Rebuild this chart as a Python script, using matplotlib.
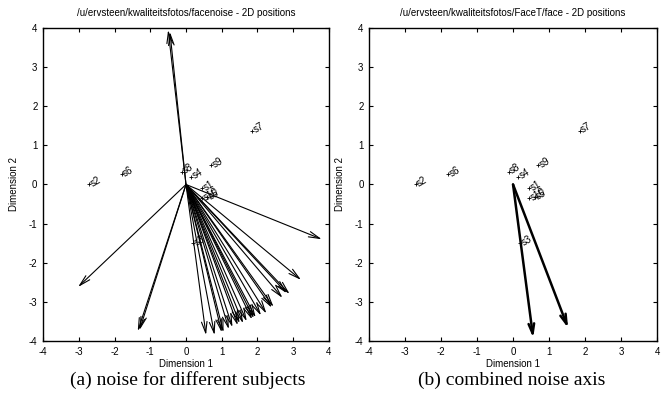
import matplotlib
matplotlib.use("Agg")
import matplotlib.pyplot as plt
import numpy as np

plt.rcParams['axes.unicode_minus'] = False
plt.rcParams['font.family'] = ['Liberation Sans', 'DejaVu Sans']

# subject positions (same in both panels)
subj_ids = ["1", "2", "3", "4", "5", "6", "7", "8", "9", "10"]
subj_x = [0.45, -2.7, 0.2, 0.15, 0.6, -1.8, 1.85, -0.12, 0.7, 0.45]
subj_y = [-0.1, 0.0, -1.5, 0.2, -0.32, 0.27, 1.38, 0.33, 0.5, -0.35]

# noise vector tips, left panel (all start at origin)
noise_x = [-0.5, -0.45, 3.8, -3.02, -1.35, -1.3,
           0.56, 0.8, 1.0, 1.05, 1.3, 1.45, 1.5, 1.6,
           1.85, 1.9, 1.95, 2.25, 2.4, 2.45, 2.7, 2.82, 2.9, 3.22,
           1.2, 1.7, 2.1]
noise_y = [3.95, 3.9, -1.4, -2.62, -3.75, -3.72,
           -3.85, -3.85, -3.78, -3.78, -3.65, -3.6, -3.55, -3.55,
           -3.45, -3.42, -3.4, -3.3, -3.15, -3.13, -2.9, -2.78, -2.8, -2.44,
           -3.7, -3.5, -3.35]

# combined noise axes, right panel
comb_x = [0.56, 1.53]
comb_y = [-3.92, -3.67]

titles = ["/u/ervsteen/kwaliteitsfotos/facenoise - 2D positions",
          "/u/ervsteen/kwaliteitsfotos/FaceT/face - 2D positions"]
captions = ["(a) noise for different subjects", "(b) combined noise axis"]

fig = plt.figure(figsize=(6.65, 3.99), dpi=100)
ax1 = fig.add_axes([0.0647, 0.1454, 0.43, 0.7844])
ax2 = fig.add_axes([0.555, 0.1454, 0.433, 0.7844])


def setup(ax, title):
    ax.set_xlim(-4, 4)
    ax.set_ylim(-4, 4)
    ax.set_xticks(range(-4, 5))
    ax.set_yticks(range(-4, 5))
    ax.tick_params(direction='in', top=True, right=True, length=3, width=0.8,
                   labelsize=7, pad=4)
    for s in ax.spines.values():
        s.set_linewidth(1.0)
    ax.set_title(title, fontsize=7, pad=9)
    ax.set_xlabel("Dimension 1", fontsize=7, labelpad=2)
    ax.set_ylabel("Dimension 2", fontsize=7, labelpad=7)


def draw_subjects(ax):
    ax.plot(subj_x, subj_y, ls='none', marker='+', ms=2.5, mew=0.6, color='k')
    for i, x, y in zip(subj_ids, subj_x, subj_y):
        ax.text(x + 0.05, y, "s" + i, fontsize=7, rotation=30, ha='left',
                va='center', rotation_mode='anchor')


setup(ax1, titles[0])
setup(ax2, titles[1])
draw_subjects(ax1)
draw_subjects(ax2)

for x, y in zip(noise_x, noise_y):
    ax1.annotate("", xy=(x, y), xytext=(0, 0),
                 arrowprops=dict(arrowstyle='->,head_length=0.8,head_width=0.2',
                                 lw=0.8, color='k', shrinkA=0, shrinkB=0))

for x, y in zip(comb_x, comb_y):
    ax2.annotate("", xy=(x, y), xytext=(0, 0),
                 arrowprops=dict(arrowstyle='->,head_length=0.7,head_width=0.2',
                                 lw=1.8, color='k', shrinkA=0, shrinkB=0))

fig.text(0.282, 0.035, captions[0], ha='center', fontsize=14,
         family=['Liberation Serif', 'DejaVu Serif'])
fig.text(0.77, 0.035, captions[1], ha='center', fontsize=14,
         family=['Liberation Serif', 'DejaVu Serif'])

fig.savefig("out.png", dpi=100)
